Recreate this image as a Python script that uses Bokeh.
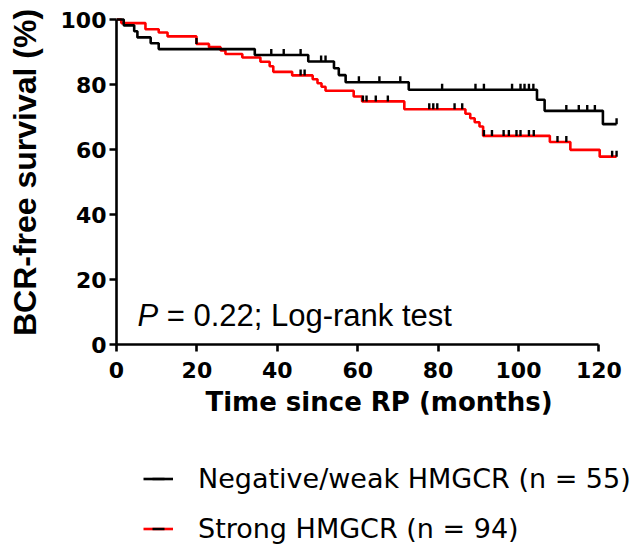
import numpy as np
from bokeh.plotting import figure
from bokeh.layouts import column
from bokeh.models import Range1d, FixedTicker, Legend, LegendItem, Label
from bokeh.embed import file_html
from bokeh.resources import INLINE

# ---------------- data ----------------
neg_label = "Negative/weak HMGCR (n = 55)"
neg_event_months = [0, 1.8, 4.4, 5.2, 8.5, 10.5, 34.4, 47.7, 54.1, 55.3, 57.0, 72.7, 104.6, 106.5, 121.0]
neg_survival = [100, 98.2, 96.4, 94.5, 92.7, 90.9, 89.1, 87.1, 85.0, 82.9, 80.7, 78.4, 75.3, 71.9, 67.8]
neg_last_followup = 124.4
neg_censored = [38.5, 41.6, 45.8, 50.9, 52.0, 60.3, 65.4, 70.6, 81.0, 89.3, 91.4, 98.4, 100.5,
                101.5, 102.6, 103.7, 111.9, 115.0, 117.1, 119.0, 124.4]

strong_label = "Strong HMGCR (n = 94)"
strong_event_months = [0, 1.2, 7.2, 10.5, 12.7, 19.9, 23.0, 25.9, 27.1, 31.3, 35.8, 38.1, 39.0, 43.7,
                       48.8, 50.0, 51.0, 52.0, 59.0, 61.1, 71.6, 86.8, 88.0, 89.1, 90.3, 91.2,
                       107.8, 112.9, 120.2]
strong_survival = [100, 98.9, 97.0, 96.0, 94.8, 92.5, 91.5, 90.5, 89.4, 88.3, 87.0, 85.6, 83.9, 82.8,
                   81.6, 80.4, 79.3, 78.1, 76.3, 74.8, 72.4, 71.0, 69.6, 68.4, 67.1, 64.2,
                   62.3, 59.9, 57.8]
strong_last_followup = 124.4
strong_censored = [19.9, 45.8, 46.8, 61.3, 62.2, 64.5, 67.5, 77.8, 78.8, 79.8, 84.1, 86.0, 91.4,
                   93.4, 96.3, 97.6, 99.5, 100.5, 102.6, 103.8, 109.7, 111.9, 123.3, 124.4]

x_ticks = [0, 20, 40, 60, 80, 100, 120]
y_ticks = [0, 20, 40, 60, 80, 100]
x_title = "Time since RP (months)"
y_title = "BCR-free survival (%)"
p_text = "P"
test_text = "= 0.22; Log-rank test"

# ---------------- helpers ----------------
def step_xy(times, surv, last):
    return list(times) + [last], list(surv) + [surv[-1]]

def censor_level(times, surv, cens):
    idx = np.searchsorted(np.asarray(times), np.asarray(cens), side="right") - 1
    return np.asarray(surv, dtype=float)[idx]

TICK_RAISE = 0.9  # style: lift censor ticks so they stand above the line


def draw_curves(fig):
    sx, sy = step_xy(strong_event_months, strong_survival, strong_last_followup)
    r_strong = fig.step(sx, sy, mode="after", line_color="#ff0000", line_width=2.6)
    nx, ny = step_xy(neg_event_months, neg_survival, neg_last_followup)
    r_neg = fig.step(nx, ny, mode="after", line_color="black", line_width=2.6)
    r_strong_c = fig.scatter(strong_censored,
                             censor_level(strong_event_months, strong_survival, strong_censored) + TICK_RAISE,
                             marker="dash", angle=np.pi / 2, size=6, line_color="black", line_width=2.4)
    r_neg_c = fig.scatter(neg_censored,
                          censor_level(neg_event_months, neg_survival, neg_censored) + TICK_RAISE,
                          marker="dash", angle=np.pi / 2, size=6, line_color="black", line_width=2.4)
    return r_neg, r_neg_c, r_strong, r_strong_c


MAIN_H = 440
p = figure(width=641, height=MAIN_H, output_backend="svg", toolbar_location=None,
           x_range=Range1d(0, 130.6), y_range=Range1d(0, 105.85),
           min_border_left=116, min_border_right=0, min_border_top=0, min_border_bottom=MAIN_H - 344)
p.outline_line_color = None
p.grid.visible = False
draw_curves(p)

for ax in (p.xaxis[0], p.yaxis[0]):
    ax.axis_line_width = 2.6
    ax.axis_line_color = "black"
    ax.major_tick_line_width = 2.6
    ax.major_tick_line_color = "black"
    ax.major_tick_out = 7
    ax.major_tick_in = 0
    ax.minor_tick_out = 0
    ax.minor_tick_in = 0
    ax.major_label_text_font = "DejaVu Sans"
    ax.major_label_text_font_style = "bold"
    ax.major_label_text_font_size = "22px"
    ax.major_label_text_color = "black"
    ax.axis_label_text_font_style = "bold"
    ax.axis_label_text_color = "black"

p.xaxis.ticker = FixedTicker(ticks=x_ticks)
p.yaxis.ticker = FixedTicker(ticks=y_ticks)
p.xaxis.bounds = (0, 120)
p.yaxis.bounds = (0, 100)
p.xaxis.major_label_standoff = 10
p.yaxis.major_label_standoff = 3

p.xaxis.axis_label = x_title
p.xaxis.axis_label_text_font = "DejaVu Sans"
p.xaxis.axis_label_text_font_size = "26px"
p.xaxis.axis_label_standoff = 6

p.yaxis.axis_label = y_title
p.yaxis.axis_label_text_font = "Liberation Sans"
p.yaxis.axis_label_text_font_size = "32px"
p.yaxis.axis_label_standoff = 15

p.add_layout(Label(x=5.2, y=8.9, text=p_text, text_font="Liberation Sans", text_font_style="italic",
                   text_font_size="31px", text_baseline="alphabetic", text_color="black"))
p.add_layout(Label(x=5.2, y=8.9, x_offset=29.3, text=test_text, text_font="Liberation Sans",
                   text_font_size="31px", text_baseline="alphabetic", text_color="black"))

# ---------------- legend strip below the chart ----------------
LEG_H = 547 - MAIN_H
lf = figure(width=641, height=LEG_H, output_backend="svg", toolbar_location=None,
            x_range=Range1d(-300, -200), y_range=Range1d(-300, -200),
            x_axis_location=None, y_axis_location=None,
            min_border_left=0, min_border_right=0, min_border_top=0, min_border_bottom=0)
lf.outline_line_color = None
lf.grid.visible = False
l_neg, l_neg_c, l_strong, l_strong_c = draw_curves(lf)

legend = Legend(items=[LegendItem(label=neg_label, renderers=[l_neg, l_neg_c]),
                       LegendItem(label=strong_label, renderers=[l_strong, l_strong_c])],
                location=(27, 3), orientation="vertical",
                glyph_width=30, glyph_height=31, label_height=31, label_standoff=25,
                spacing=19, padding=0, margin=0,
                border_line_color=None, background_fill_alpha=0,
                label_text_font="DejaVu Sans", label_text_font_size="27px", label_text_color="black")
lf.add_layout(legend)

layout = column(p, lf, spacing=0)
open("out.html", "w").write(file_html(layout, INLINE))
